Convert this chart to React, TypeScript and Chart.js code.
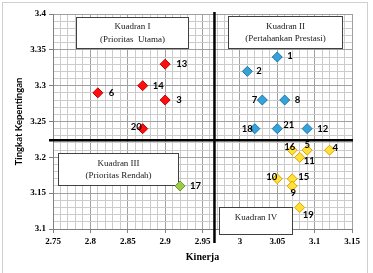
import React, { useEffect, useRef } from 'react';
import { Chart, registerables } from 'chart.js';

Chart.register(...registerables);

// ---- axis ranges & quadrant split ----
const X_MIN = 2.75;
const X_MAX = 3.15;
const Y_MIN = 3.1;
const Y_MAX = 3.4;
const STEP = 0.01;
const QUAD_X = 2.966;
const QUAD_Y = 3.224;

// ---- data (Kinerja = x, Tingkat Kepentingan = y) ----
const q1Labels = ['13', '14', '6', '3', '20'];
const q1X = [2.9, 2.87, 2.81, 2.9, 2.87];
const q1Y = [3.33, 3.3, 3.29, 3.28, 3.24];

const q2Labels = ['1', '2', '7', '8', '18', '21', '12'];
const q2X = [3.05, 3.01, 3.03, 3.06, 3.02, 3.05, 3.09];
const q2Y = [3.34, 3.32, 3.28, 3.28, 3.24, 3.24, 3.24];

const q4Labels = ['16', '5', '4', '11', '10', '15', '9', '19'];
const q4X = [3.07, 3.09, 3.12, 3.08, 3.05, 3.07, 3.07, 3.08];
const q4Y = [3.21, 3.21, 3.21, 3.2, 3.17, 3.17, 3.16, 3.13];

const q3Labels = ['17'];
const q3X = [2.92];
const q3Y = [3.16];

// ---- quadrant text boxes (data coordinates) ----
const BOXES = [
  { lines: ['Kuadran I', '(Prioritas  Utama)'], x0: 2.781, x1: 2.931, y0: 3.396, y1: 3.353 },
  { lines: ['Kuadran II', '(Pertahankan Prestasi)'], x0: 2.984, x1: 3.136, y0: 3.397, y1: 3.353 },
  { lines: ['Kuadran III', '(Prioritas Rendah)'], x0: 2.757, x1: 2.917, y0: 3.206, y1: 3.161 },
  { lines: ['Kuadran IV'], x0: 2.972, x1: 3.07, y0: 3.131, y1: 3.093 },
];

// ---- label placement (style): dx, dy, align ----
const LABEL_PLACE: Record<string, [number, number, CanvasTextAlign]> = {
  '13': [11, 0, 'left'],
  '14': [10, 0, 'left'],
  '6': [11, 0, 'left'],
  '3': [11, 0, 'left'],
  '20': [-1, -2, 'right'],
  '1': [10, -1, 'left'],
  '2': [9, 0, 'left'],
  '7': [-5, 0, 'right'],
  '8': [10, 0, 'left'],
  '18': [-2, 0, 'right'],
  '21': [6, -4, 'left'],
  '12': [10, 0, 'left'],
  '16': [3, -3, 'right'],
  '5': [0, -5, 'center'],
  '4': [3, -2, 'left'],
  '11': [4, 4, 'left'],
  '10': [0, -2, 'right'],
  '15': [6, -2, 'left'],
  '9': [1, 7, 'center'],
  '19': [3, 7, 'left'],
  '17': [10, 0, 'left'],
};

const toPoints = (xs: number[], ys: number[]) => xs.map((x, i) => ({ x, y: ys[i] }));
const isMajor = (v: number) => Math.abs(v * 20 - Math.round(v * 20)) < 1e-6;
const fmt = (v: number) => (isMajor(v) ? String(parseFloat(v.toFixed(2))) : '');

const TICK_FONT = { family: 'Liberation Serif', weight: 'bold' as const, size: 9 };

const decorPlugin = {
  id: 'decor',
  beforeDraw(chart: any) {
    const ctx = chart.ctx;
    ctx.save();
    ctx.fillStyle = '#ffffff';
    ctx.fillRect(0, 0, chart.width, chart.height);
    ctx.strokeStyle = '#d0d0d0';
    ctx.lineWidth = 1;
    ctx.strokeRect(2.5, 2.5, 365, 290);
    ctx.restore();
  },
  beforeDatasetsDraw(chart: any) {
    const ctx = chart.ctx;
    const xs = chart.scales.x;
    const ys = chart.scales.y;
    ctx.save();
    // quadrant lines
    ctx.strokeStyle = '#000000';
    ctx.lineWidth = 2.5;
    const qx = xs.getPixelForValue(QUAD_X);
    const qy = ys.getPixelForValue(QUAD_Y);
    ctx.beginPath();
    ctx.moveTo(qx, ys.top - 2);
    ctx.lineTo(qx, ys.bottom + 14);
    ctx.stroke();
    ctx.beginPath();
    ctx.moveTo(xs.left - 4, qy);
    ctx.lineTo(xs.right + 1, qy);
    ctx.stroke();
    // text boxes
    ctx.font = '9px "Liberation Serif"';
    ctx.textAlign = 'center';
    ctx.textBaseline = 'middle';
    BOXES.forEach((b) => {
      const l = Math.round(xs.getPixelForValue(b.x0)) + 0.5;
      const r = Math.round(xs.getPixelForValue(b.x1)) + 0.5;
      const t = Math.round(ys.getPixelForValue(b.y0)) + 0.5;
      const bt = Math.round(ys.getPixelForValue(b.y1)) + 0.5;
      ctx.fillStyle = '#ffffff';
      ctx.fillRect(l, t, r - l, bt - t);
      ctx.strokeStyle = '#404040';
      ctx.lineWidth = 1;
      ctx.strokeRect(l, t, r - l, bt - t);
      ctx.fillStyle = '#1a1a1a';
      const cx = (l + r) / 2;
      if (b.lines.length === 1) {
        ctx.fillText(b.lines[0], cx, t + 10.5);
      } else {
        const cy = (t + bt) / 2;
        ctx.fillText(b.lines[0], cx, cy - 6.3);
        ctx.fillText(b.lines[1], cx, cy + 6.3);
      }
    });
    ctx.restore();
  },
  afterDatasetsDraw(chart: any) {
    const ctx = chart.ctx;
    ctx.save();
    ctx.font = 'bold 9.5px Lato';
    ctx.fillStyle = '#000000';
    ctx.textBaseline = 'middle';
    chart.data.datasets.forEach((ds: any, di: number) => {
      const meta = chart.getDatasetMeta(di);
      meta.data.forEach((el: any, i: number) => {
        const lab = ds.pointLabels[i];
        const p = LABEL_PLACE[lab] || [10, 0, 'left'];
        ctx.textAlign = p[2];
        ctx.fillText(lab, el.x + p[0], el.y + p[1]);
      });
    });
    // axis titles
    ctx.font = 'bold 10px "Liberation Serif"';
    ctx.textAlign = 'center';
    const xs = chart.scales.x;
    const ys = chart.scales.y;
    ctx.fillText('Kinerja', (xs.left + xs.right) / 2, 257);
    ctx.translate(19, (ys.top + ys.bottom) / 2);
    ctx.rotate(-Math.PI / 2);
    ctx.font = 'bold 9.5px Lato';
    ctx.fillText('Tingkat Kepentingan', 0, 0);
    ctx.restore();
  },
};

const gridColor = (c: any) => (c.tick && isMajor(c.tick.value) ? '#a0a0a0' : '#cccccc');
const tickColor = (c: any) => (c.tick && isMajor(c.tick.value) ? '#808080' : 'rgba(0,0,0,0)');

export default function App() {
  const ref = useRef<HTMLCanvasElement | null>(null);
  useEffect(() => {
    if (!ref.current) return;
    const mk = (labels: string[], xs: number[], ys: number[], bg: string, border: string) => ({
      data: toPoints(xs, ys),
      pointLabels: labels,
      pointStyle: 'rectRot',
      pointRadius: 5,
      pointBackgroundColor: bg,
      pointBorderColor: border,
      pointBorderWidth: 1,
      showLine: false,
    });
    const chart = new Chart(ref.current, {
      type: 'scatter',
      data: {
        datasets: [
          mk(q1Labels, q1X, q1Y, '#ff0d0d', '#c00000'),
          mk(q2Labels, q2X, q2Y, '#35a2da', '#1f78ad'),
          mk(q4Labels, q4X, q4Y, '#ffe13a', '#e0a200'),
          mk(q3Labels, q3X, q3Y, '#9ccb47', '#6f9a2a'),
        ] as any,
      },
      options: {
        responsive: false,
        animation: false,
        devicePixelRatio: 1,
        layout: { padding: { left: 0, top: 14, right: 21, bottom: 0 } },
        plugins: { legend: { display: false }, tooltip: { enabled: false } },
        scales: {
          x: {
            type: 'linear',
            min: X_MIN,
            max: X_MAX,
            afterFit: (s: any) => {
              s.height = 44;
            },
            ticks: {
              stepSize: STEP,
              autoSkip: false,
              maxRotation: 0,
              callback: (v: any) => fmt(Number(v)),
              font: TICK_FONT,
              color: '#000000',
              padding: 3,
            },
            grid: { color: gridColor, tickColor, tickLength: 4, lineWidth: 1 },
            border: { color: '#808080' },
          },
          y: {
            type: 'linear',
            min: Y_MIN,
            max: Y_MAX,
            afterFit: (s: any) => {
              s.width = 53;
            },
            ticks: {
              stepSize: STEP,
              autoSkip: false,
              callback: (v: any) => fmt(Number(v)),
              font: TICK_FONT,
              color: '#000000',
              padding: 3,
            },
            grid: { color: gridColor, tickColor, tickLength: 4, lineWidth: 1 },
            border: { color: '#808080' },
          },
        },
      } as any,
      plugins: [decorPlugin],
    });
    return () => chart.destroy();
  }, []);
  return (
    <div style={{ position: 'absolute', left: 0, top: 0, width: 373, height: 273 }}>
      <canvas ref={ref} width={373} height={273} style={{ display: 'block' }} />
    </div>
  );
}
